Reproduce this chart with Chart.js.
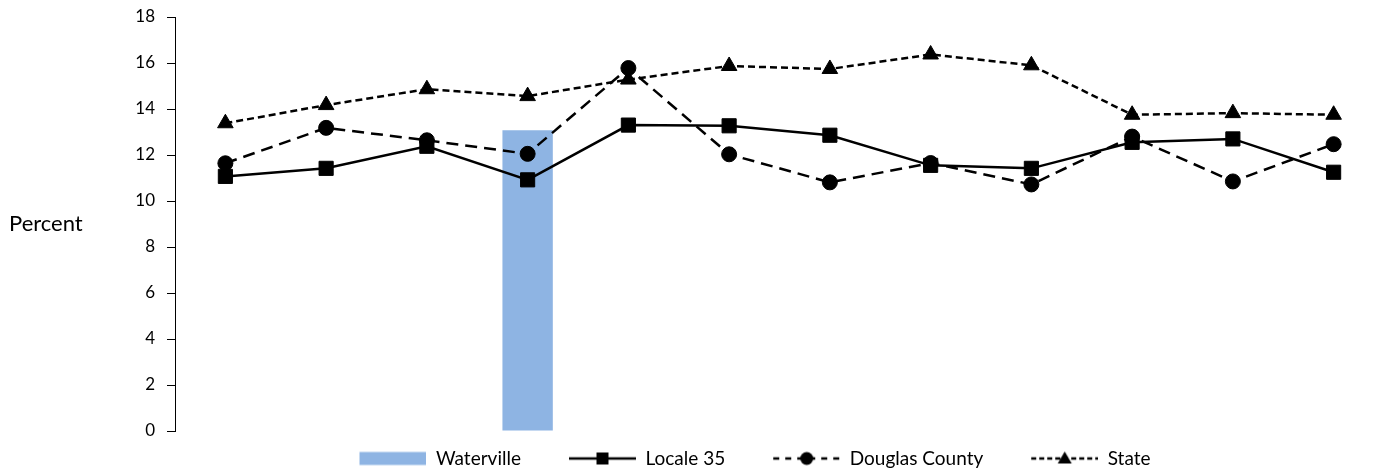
<!DOCTYPE html>
<html>
<head>
<meta charset="utf-8">
<script src="https://cdn.jsdelivr.net/npm/chart.js@4/dist/chart.umd.min.js"></script>
<style>
    body { margin: 0; background: #fff; }
    #wrap { position: relative; width: 1395px; height: 473px; }
</style>
</head>
<body>
<div id="wrap">
    <canvas id="chart" width="1395" height="473"></canvas>
</div>
<script>
// categories have no visible labels in the source chart
const categories = ["1", "2", "3", "4", "5", "6", "7", "8", "9", "10", "11", "12"];
const waterville = [null, null, null, 13.08, null, null, null, null, null, null, null, null];
const locale35 = [11.07, 11.42, 12.38, 10.92, 13.3, 13.27, 12.86, 11.55, 11.42, 12.55, 12.7, 11.25];
const douglasCounty = [11.64, 13.18, 12.64, 12.05, 15.78, 12.03, 10.81, 11.65, 10.72, 12.8, 10.85, 12.47];
const state = [13.38, 14.17, 14.86, 14.56, 15.28, 15.87, 15.74, 16.37, 15.9, 13.75, 13.82, 13.75];
const yTicks = [0, 2, 4, 6, 8, 10, 12, 14, 16, 18];

const barColor = "#8EB4E3";
const FONT = "Lato";
const LEGEND_LEAD = 43;
const ICON_W = 67;

function makeIcon(kind, dash) {
    const c = document.createElement("canvas");
    c.width = LEGEND_LEAD + ICON_W;
    c.height = 16;
    const ctx = c.getContext("2d");
    const x0 = LEGEND_LEAD, cy = 8;
    if (kind === "bar") {
        ctx.fillStyle = barColor;
        ctx.fillRect(x0, 1.5, ICON_W, 13);
        return c;
    }
    ctx.strokeStyle = "#000";
    ctx.lineWidth = 2.5;
    ctx.setLineDash(dash || []);
    ctx.beginPath();
    ctx.moveTo(x0, cy);
    ctx.lineTo(x0 + ICON_W, cy);
    ctx.stroke();
    ctx.setLineDash([]);
    ctx.fillStyle = "#000";
    const mx = x0 + ICON_W / 2;
    ctx.beginPath();
    if (kind === "rect") {
        ctx.rect(mx - 6, cy - 6, 12, 12);
    } else if (kind === "circle") {
        ctx.arc(mx, cy, 6.5, 0, Math.PI * 2);
    } else {
        ctx.moveTo(mx, cy - 7);
        ctx.lineTo(mx + 7, cy + 5);
        ctx.lineTo(mx - 7, cy + 5);
        ctx.closePath();
    }
    ctx.fill();
    return c;
}

const legendIcons = [
    makeIcon("bar"),
    makeIcon("rect"),
    makeIcon("circle", [6, 6]),
    makeIcon("triangle", [5, 3])
];

const percentLabel = {
    id: "percentLabel",
    afterDraw(chart) {
        const ctx = chart.ctx;
        ctx.save();
        ctx.fillStyle = "#000";
        ctx.font = "22px " + FONT;
        ctx.textBaseline = "middle";
        ctx.textAlign = "left";
        ctx.fillText("Percent", 9, 224);
        ctx.restore();
    }
};

new Chart(document.getElementById("chart"), {
    type: "bar",
    data: {
        labels: categories,
        datasets: [
            {
                type: "bar",
                label: "Waterville",
                data: waterville,
                backgroundColor: barColor,
                barPercentage: 0.5,
                categoryPercentage: 1.0,
                order: 1
            },
            {
                type: "line",
                label: "Locale 35",
                data: locale35,
                borderColor: "#000",
                backgroundColor: "#000",
                borderWidth: 2.5,
                pointStyle: "rect",
                pointRadius: 10,
                pointBorderWidth: 1,
                order: 0
            },
            {
                type: "line",
                label: "Douglas County",
                data: douglasCounty,
                borderColor: "#000",
                backgroundColor: "#000",
                borderWidth: 2.5,
                borderDash: [12, 7],
                pointStyle: "circle",
                pointRadius: 7.5,
                pointBorderWidth: 1,
                order: 0
            },
            {
                type: "line",
                label: "State",
                data: state,
                borderColor: "#000",
                backgroundColor: "#000",
                borderWidth: 2.5,
                borderDash: [7, 4],
                pointStyle: "triangle",
                pointRadius: 9,
                pointBorderWidth: 1,
                order: 0
            }
        ]
    },
    options: {
        responsive: false,
        animation: false,
        layout: { padding: { left: 76, right: 4, top: 17, bottom: -5 } },
        scales: {
            x: {
                offset: true,
                grid: { display: false },
                border: { display: false },
                ticks: { display: false },
                afterFit: (s) => { s.height = 13; }
            },
            y: {
                min: 0,
                max: 18,
                afterFit: (s) => {
                    s.width = 99;
                    s.paddingTop = 0;
                    s.paddingBottom = 0;
                },
                afterBuildTicks: (s) => { s.ticks = yTicks.map(v => ({ value: v })); },
                grid: { display: true, drawOnChartArea: false, tickLength: 8, color: "#000", lineWidth: 1 },
                border: { display: true, color: "#000", width: 1 },
                ticks: { color: "#000", padding: 12, font: { family: FONT, size: 17 } }
            }
        },
        plugins: {
            tooltip: { enabled: false },
            legend: {
                position: "bottom",
                labels: {
                    color: "#000",
                    padding: 5,
                    usePointStyle: true,
                    pointStyleWidth: LEGEND_LEAD + ICON_W,
                    font: { family: FONT, size: 19 },
                    generateLabels: (chart) => {
                        const items = Chart.defaults.plugins.legend.labels.generateLabels(chart);
                        items.sort((a, b) => a.datasetIndex - b.datasetIndex);
                        items.forEach((it) => { it.pointStyle = legendIcons[it.datasetIndex]; });
                        return items;
                    }
                }
            }
        }
    },
    plugins: [percentLabel]
});
</script>
</body>
</html>
